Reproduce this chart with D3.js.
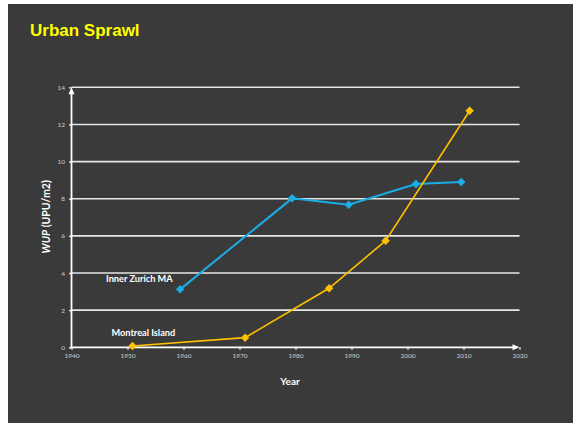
<!DOCTYPE html>
<html>
<head>
<meta charset="utf-8">
<script src="https://cdn.jsdelivr.net/npm/d3@7"></script>
<style>
  html, body { margin: 0; padding: 0; background: #ffffff; }
  svg { display: block; }
</style>
</head>
<body>
<script>
// Weighted urban proliferation (WUP) over time for two regions
const zurichYears  = [1959.4, 1979.4, 1989.5, 2001.5, 2009.6];
const zurichWup    = [3.12, 8.02, 7.68, 8.79, 8.9];
const montrealYears = [1950.9, 1971, 1986, 1996.1, 2011.1];
const montrealWup   = [0.07, 0.52, 3.18, 5.74, 12.74];
const xTicks = [1940, 1950, 1960, 1970, 1980, 1990, 2000, 2010, 2020];
const yTicks = [0, 2, 4, 6, 8, 10, 12, 14];

const W = 573, H = 423;
const svg = d3.select("body").append("svg").attr("width", W).attr("height", H);

// slide panel
svg.append("rect").attr("x", 8).attr("y", 4).attr("width", W - 8).attr("height", H - 4)
  .attr("fill", "#3a3a3a");

svg.append("text").attr("x", 30).attr("y", 36)
  .attr("font-family", "Liberation Sans, Arial, sans-serif")
  .attr("font-weight", "bold").attr("font-size", 17)
  .attr("fill", "#ffff00").text("Urban Sprawl");

const x = d3.scaleLinear().domain([1940, 2020]).range([71.5, 519.5]);
const y = d3.scaleLinear().domain([0, 14]).range([347.3, 87.3]);

const font = "Lato, 'Open Sans', sans-serif";

// horizontal gridlines
svg.append("g").selectAll("line").data(yTicks.filter(d => d > 0)).join("line")
  .attr("x1", x(1940)).attr("x2", x(2020))
  .attr("y1", d => y(d)).attr("y2", d => y(d))
  .attr("stroke", "#e6e6e6").attr("stroke-width", 1.6);

// y axis
const yAxis = svg.append("g").attr("transform", `translate(${x(1940)},0)`)
  .call(d3.axisLeft(y).tickValues(yTicks).tickSize(2.5).tickPadding(4));
yAxis.select(".domain").remove();
yAxis.selectAll("line").attr("stroke", "#e6e6e6").attr("stroke-width", 1.4);
yAxis.selectAll("text").attr("fill", "#d0d0d0").attr("font-size", 6.5)
  .attr("font-family", font);

// x axis
const xAxis = svg.append("g").attr("transform", `translate(0,${y(0)})`)
  .call(d3.axisBottom(x).tickValues(xTicks).tickFormat(d3.format("d")).tickSize(2.5).tickPadding(4));
xAxis.select(".domain").remove();
xAxis.selectAll("line").attr("stroke", "#e6e6e6").attr("stroke-width", 1.4);
xAxis.selectAll("text").attr("fill", "#d0d0d0").attr("font-size", 6.5)
  .attr("font-family", font);

// axis lines with arrow heads
svg.append("line").attr("x1", x(1940)).attr("x2", x(1940))
  .attr("y1", y(0) + 1).attr("y2", y(14) + 6)
  .attr("stroke", "#ffffff").attr("stroke-width", 1.8);
svg.append("path")
  .attr("d", `M${x(1940)},${y(14)} L${x(1940) - 3},${y(14) + 7} L${x(1940) + 3},${y(14) + 7} Z`)
  .attr("fill", "#ffffff");
svg.append("line").attr("x1", x(1940) - 1).attr("x2", x(2020) - 6)
  .attr("y1", y(0)).attr("y2", y(0))
  .attr("stroke", "#ffffff").attr("stroke-width", 1.8);
svg.append("path")
  .attr("d", `M${x(2020)},${y(0)} L${x(2020) - 7},${y(0) - 3} L${x(2020) - 7},${y(0) + 3} Z`)
  .attr("fill", "#ffffff");

// axis titles
const yt = svg.append("text")
  .attr("transform", `translate(50,${(y(0) + y(14)) / 2 - 0.5}) rotate(-90)`)
  .attr("text-anchor", "middle").attr("fill", "#ffffff")
  .attr("font-family", font).attr("font-weight", "bold").attr("font-size", 10.5);
yt.append("tspan").attr("font-style", "italic").text("WUP");
yt.append("tspan").text(" (UPU/m2)");

svg.append("text").attr("x", 290).attr("y", 385).attr("text-anchor", "middle")
  .attr("fill", "#ffffff").attr("font-family", font).attr("font-weight", "bold")
  .attr("font-size", 10).text("Year");

// series
const series = [
  { years: zurichYears, vals: zurichWup, color: "#1aaee6", width: 2 },
  { years: montrealYears, vals: montrealWup, color: "#ffc000", width: 1.6 }
];
const line = d3.line().x(d => x(d[0])).y(d => y(d[1]));
const marker = d3.symbol().type(d3.symbolSquare).size(36);
series.forEach(s => {
  const pts = s.years.map((yr, i) => [yr, s.vals[i]]);
  svg.append("path").datum(pts).attr("d", line)
    .attr("fill", "none").attr("stroke", s.color).attr("stroke-width", s.width);
  svg.append("g").selectAll("path").data(pts).join("path")
    .attr("d", marker)
    .attr("transform", d => `translate(${x(d[0])},${y(d[1])}) rotate(45)`)
    .attr("fill", s.color);
});

// series labels
svg.append("text").attr("x", 106).attr("y", 282).attr("fill", "#ffffff")
  .attr("font-family", font).attr("font-weight", "bold").attr("font-size", 9.2)
  .text("Inner Zurich MA");
svg.append("text").attr("x", 111.5).attr("y", 336).attr("fill", "#ffffff")
  .attr("font-family", font).attr("font-weight", "bold").attr("font-size", 9.2)
  .text("Montreal Island");
</script>
</body>
</html>
